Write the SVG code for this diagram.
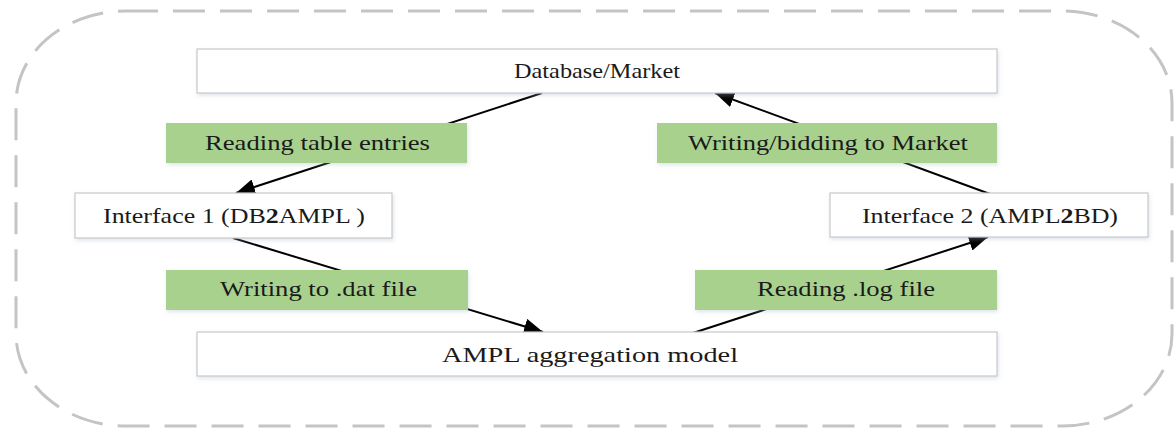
<svg xmlns="http://www.w3.org/2000/svg" width="1176" height="429" viewBox="0 0 1176 429">
<style>
.box{fill:#ffffff;stroke:#c9c9c9;stroke-width:1.2;filter:url(#sh)}
.lab{fill:#a9d18e;stroke:none;filter:url(#sh)}
.t{font-family:"Liberation Serif","Times New Roman",serif;font-size:21px;fill:#1a1a1a}
.c{stroke:#000;stroke-width:2;fill:none;marker-end:url(#ah)}
.frame{fill:none;stroke:#c4c4c4;stroke-width:3;stroke-dasharray:32 15}
</style>
<defs>
<filter id="sh" x="-5%" y="-20%" width="110%" height="150%">
<feDropShadow dx="1" dy="2" stdDeviation="2" flood-color="#9fb3cc" flood-opacity="0.35"/>
</filter>
<marker id="ah" markerUnits="userSpaceOnUse" markerWidth="20" markerHeight="16" refX="19" refY="8" orient="auto">
<path d="M0,0 L19,8 L0,16 z" fill="#000"/>
</marker>
</defs>
<rect class="frame" x="16" y="11" width="1156" height="415" rx="110" ry="92"/>
<g id="connectors">
<line class="c" x1="542" y1="93" x2="236" y2="193"/>
<line class="c" x1="233" y1="238" x2="543" y2="332"/>
<line class="c" x1="693" y1="333" x2="988" y2="237"/>
<line class="c" x1="990" y1="194" x2="715" y2="93"/>
</g>
<g id="database">
<rect class="box" x="197" y="49" width="800" height="44"/>
<text class="t" x="514" y="78" textLength="166" lengthAdjust="spacingAndGlyphs">Database/Market</text>
</g>
<g id="label-reading-table">
<rect class="lab" x="166" y="123" width="301" height="40"/>
<text class="t" x="205" y="150" textLength="225" lengthAdjust="spacingAndGlyphs">Reading table entries</text>
</g>
<g id="label-writing-bidding">
<rect class="lab" x="657" y="123" width="340" height="40"/>
<text class="t" x="688" y="150" textLength="280" lengthAdjust="spacingAndGlyphs">Writing/bidding to Market</text>
</g>
<g id="interface1">
<rect class="box" x="75" y="193" width="317" height="45"/>
<text class="t" x="103" y="223" textLength="262" lengthAdjust="spacingAndGlyphs">Interface 1 (DB<tspan font-weight="bold">2</tspan>AMPL )</text>
</g>
<g id="interface2">
<rect class="box" x="830" y="193" width="318" height="44"/>
<text class="t" x="862" y="223" textLength="256" lengthAdjust="spacingAndGlyphs">Interface 2 (AMPL<tspan font-weight="bold">2</tspan>BD)</text>
</g>
<g id="label-writing-dat">
<rect class="lab" x="166" y="270" width="302" height="40"/>
<text class="t" x="220" y="296" textLength="197" lengthAdjust="spacingAndGlyphs">Writing to .dat file</text>
</g>
<g id="label-reading-log">
<rect class="lab" x="695" y="270" width="302" height="40"/>
<text class="t" x="757" y="296" textLength="178" lengthAdjust="spacingAndGlyphs">Reading .log file</text>
</g>
<g id="ampl">
<rect class="box" x="197" y="332" width="800" height="44"/>
<text class="t" x="442" y="362" textLength="296" lengthAdjust="spacingAndGlyphs">AMPL aggregation model</text>
</g>
</svg>
